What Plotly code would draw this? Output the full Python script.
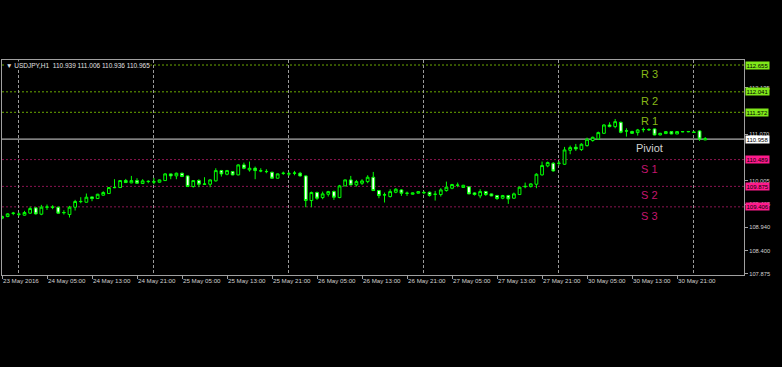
import plotly.graph_objects as go

# ---------------- data ----------------
opens = [109.146,109.184,109.255,109.240,109.215,109.261,109.383,109.238,109.398,109.400,
         109.398,109.270,109.230,109.398,109.525,109.512,109.634,109.596,109.673,109.711,
         109.845,109.848,110.008,109.955,110.008,109.940,109.985,109.980,109.970,110.008,
         110.161,110.115,110.176,110.115,109.871,110.008,109.930,109.924,110.001,110.237,
         110.153,110.214,110.138,110.367,110.252,110.290,110.229,110.218,110.199,110.062,
         110.172,110.165,110.176,110.176,110.115,109.551,109.734,109.619,109.695,109.756,
         109.619,109.886,110.023,109.909,109.947,109.985,110.084,109.779,109.683,109.642,
         109.741,109.794,109.720,109.695,109.718,109.735,109.741,109.697,109.688,109.779,
         109.833,109.903,109.850,109.866,109.726,109.657,109.756,109.703,109.665,109.604,
         109.665,109.604,109.688,109.868,109.870,109.924,110.138,110.344,110.405,110.400,
         110.382,110.702,110.771,110.718,110.809,110.924,110.962,111.091,111.282,111.244,
         111.343,111.147,111.130,111.107,111.173,111.177,111.191,111.053,111.084,111.130,
         111.076,111.130,111.127,111.118,111.145,110.939]
highs = [109.207,109.260,109.291,109.276,109.314,109.413,109.398,109.451,109.459,109.444,
         109.410,109.329,109.428,109.566,109.627,109.711,109.640,109.705,109.764,109.860,
         110.039,110.020,110.046,110.115,110.062,110.039,110.016,110.069,110.030,110.176,
         110.165,110.191,110.190,110.125,110.015,110.039,110.085,110.039,110.290,110.252,
         110.252,110.225,110.380,110.420,110.443,110.329,110.290,110.268,110.210,110.170,
         110.214,110.207,110.229,110.207,110.125,109.756,109.756,109.756,109.772,109.779,
         109.909,110.030,110.115,110.023,110.039,110.130,110.206,109.794,109.733,109.810,
         109.833,109.810,109.756,109.735,109.760,109.772,109.756,109.772,109.833,109.985,
         109.932,109.962,109.910,109.876,109.741,109.810,109.772,109.710,109.680,109.680,
         109.680,109.733,109.870,109.962,109.945,110.176,110.443,110.443,110.428,110.458,
         110.779,110.809,110.847,110.863,110.992,111.015,111.130,111.297,111.343,111.419,
         111.358,111.206,111.150,111.191,111.221,111.206,111.200,111.100,111.140,111.140,
         111.140,111.140,111.145,111.130,111.160,111.006]
lows = [109.123,109.170,109.215,109.190,109.205,109.245,109.230,109.215,109.337,109.352,
        109.250,109.230,109.162,109.322,109.489,109.505,109.535,109.590,109.665,109.700,
        109.833,109.840,109.955,109.947,109.940,109.932,109.947,109.924,109.962,110.000,
        110.039,110.039,110.090,109.860,109.848,109.856,109.909,109.856,109.985,110.100,
        110.130,110.130,110.130,110.268,110.214,110.039,110.199,110.176,110.055,110.055,
        110.138,110.115,110.130,110.100,109.398,109.398,109.566,109.581,109.642,109.566,
        109.604,109.880,109.900,109.871,109.909,109.947,109.770,109.604,109.505,109.619,
        109.718,109.657,109.657,109.688,109.712,109.695,109.642,109.550,109.642,109.756,
        109.810,109.856,109.845,109.695,109.665,109.604,109.657,109.650,109.566,109.581,
        109.474,109.589,109.680,109.833,109.850,109.833,110.123,110.313,110.214,110.352,
        110.367,110.611,110.687,110.687,110.786,110.901,110.939,111.076,111.229,111.206,
        111.091,111.015,111.084,111.038,111.114,111.145,111.045,111.045,111.076,111.070,
        111.070,111.115,111.115,111.100,110.916,110.936]
closes = [109.184,109.245,109.262,109.236,109.276,109.367,109.245,109.398,109.402,109.396,
          109.261,109.276,109.398,109.528,109.530,109.627,109.596,109.695,109.734,109.848,
          109.850,110.008,109.962,110.008,109.947,110.001,109.990,109.976,110.023,110.161,
          110.115,110.176,110.100,109.871,110.008,109.924,109.924,110.023,110.237,110.161,
          110.237,110.138,110.367,110.290,110.290,110.237,110.232,110.214,110.062,110.161,
          110.176,110.161,110.180,110.115,109.551,109.734,109.604,109.703,109.756,109.627,
          109.886,110.023,109.909,109.985,110.000,110.084,109.779,109.665,109.680,109.756,
          109.810,109.718,109.716,109.726,109.756,109.731,109.665,109.693,109.794,109.856,
          109.917,109.901,109.901,109.703,109.688,109.756,109.688,109.657,109.596,109.665,
          109.589,109.703,109.856,109.875,109.932,110.153,110.352,110.420,110.229,110.405,
          110.710,110.763,110.733,110.840,110.954,111.000,111.107,111.282,111.244,111.358,
          111.114,111.143,111.091,111.168,111.177,111.173,111.053,111.091,111.130,111.076,
          111.130,111.127,111.130,111.114,110.962,110.965]

bars = list(range(len(opens)))

time_tick_bars = [0, 8, 16, 24, 32, 40, 48, 56, 64, 72, 80, 88, 96, 104, 112, 120]
time_tick_text = ["23 May 2016", "24 May 05:00", "24 May 13:00", "24 May 21:00",
                  "25 May 05:00", "25 May 13:00", "25 May 21:00", "26 May 05:00",
                  "26 May 13:00", "26 May 21:00", "27 May 05:00", "27 May 13:00",
                  "27 May 21:00", "30 May 05:00", "30 May 13:00", "30 May 21:00"]
day_start_bars = [3, 27, 51, 75, 99, 123]

price_ticks = [112.135, 111.070, 110.005, 109.465, 108.940, 108.400, 107.875]
price_tick_text = ["112.135", "111.070", "110.005", "109.465", "108.940", "108.400", "107.875"]

level_names = ["R 3", "R 2", "R 1", "Piviot", "S 1", "S 2", "S 3"]
level_values = [112.655, 112.041, 111.572, 110.958, 110.489, 109.875, 109.406]
level_kinds = ["R", "R", "R", "P", "S", "S", "S"]

header = "\u25BC USDJPY,H1  110.939 111.006 110.936 110.965"

# ---------------- style ----------------
line_col = {"R": "#6aa800", "P": "#d8d8d8", "S": "#8a1450"}
line_dash = {"R": "2px,2px", "P": "solid", "S": "2px,2px"}
text_col = {"R": "#86b817", "P": "#d0d0d0", "S": "#c4166e"}
box_col = {"R": "#80e81a", "P": "#ffffff", "S": "#ff1a8c"}
FONT = "Liberation Sans"

fig = go.Figure()
fig.add_trace(go.Candlestick(
    x=bars, open=opens, high=highs, low=lows, close=closes,
    increasing=dict(line=dict(color="#00ff00", width=1), fillcolor="#000000"),
    decreasing=dict(line=dict(color="#00ff00", width=1), fillcolor="#ffffff"),
    whiskerwidth=0, showlegend=False, hoverinfo="skip",
))

for name, val, kind in zip(level_names, level_values, level_kinds):
    fig.add_shape(type="line", xref="paper", x0=0, x1=1, yref="y", y0=val, y1=val,
                  line=dict(color=line_col[kind], width=1, dash=line_dash[kind]), layer="below")
    fig.add_annotation(x=115.1, xref="x", y=val, yref="y", yanchor="top", xanchor="center",
                       yshift=-1, text=name, showarrow=False,
                       font=dict(family=FONT, size=11, color=text_col[kind]))
    fig.add_annotation(x=1, xref="paper", y=val, yref="y", xanchor="left", yanchor="middle",
                       xshift=1, text=f"{val:.3f}", showarrow=False, bgcolor=box_col[kind],
                       borderpad=0.5, font=dict(family=FONT, size=6, color="#000000"))

fig.add_annotation(x=0, xref="paper", y=1, yref="paper", xanchor="left", yanchor="top",
                   xshift=3, yshift=-1, text=header, showarrow=False, bgcolor="#000000",
                   borderpad=0, font=dict(family=FONT, size=6.5, color="#e0e0e0"))

axis_col = "#a0a0a0"
fig.update_layout(
    width=782, height=367,
    margin=dict(l=2, r=38, t=60, b=92),
    paper_bgcolor="#000000", plot_bgcolor="#000000",
    xaxis=dict(
        range=[0, 131.9], rangeslider=dict(visible=False),
        tickmode="array", tickvals=time_tick_bars, ticktext=time_tick_text,
        ticks="outside", ticklen=3, tickcolor=axis_col, ticklabelposition="outside right",
        tickangle=0,
        tickfont=dict(family=FONT, size=6.2, color="#d0d0d0"),
        showgrid=False, zeroline=False,
        showline=True, linecolor=axis_col, linewidth=1, mirror=True,
        minor=dict(tickmode="array", tickvals=day_start_bars, showgrid=True,
                   gridcolor="#9a9a9a", griddash="3px,2px", gridwidth=1, ticks=""),
    ),
    yaxis=dict(
        range=[107.845, 112.77], side="right",
        tickmode="array", tickvals=price_ticks, ticktext=price_tick_text,
        ticks="outside", ticklen=3, tickcolor=axis_col,
        tickfont=dict(family=FONT, size=5.8, color="#d0d0d0"),
        showgrid=False, zeroline=False,
        showline=True, linecolor=axis_col, linewidth=1, mirror=True,
    ),
)

fig.write_html("out.html", config={"displayModeBar": False},
               post_script="document.body.style.margin='0';document.body.style.background='#000';")
